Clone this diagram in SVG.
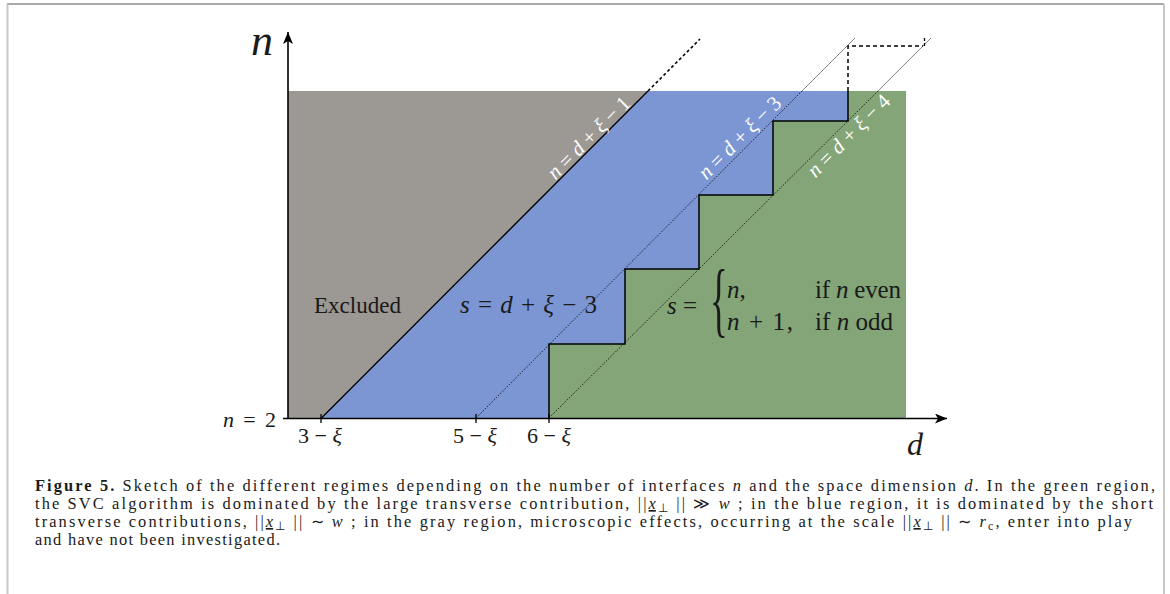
<svg xmlns="http://www.w3.org/2000/svg" width="1170" height="594" viewBox="0 0 1170 594">
<style>
.m{font-family:"Liberation Serif",serif;fill:#1a1a1a}
.it{font-style:italic}
.w{fill:#ffffff}
.cap{font-family:"Liberation Serif",serif;font-size:16.4px;fill:#1a1a1a}
.thin{stroke:#555;stroke-width:0.7;fill:none}
.dot{stroke:#000;stroke-width:1;stroke-dasharray:1 1.6;fill:none}
</style>
<defs>
<marker id="arr" viewBox="0 0 12 10" refX="12" refY="5" markerWidth="12" markerHeight="10" orient="auto" markerUnits="userSpaceOnUse">
<path d="M0,0 L12,5 L0,10 L3,5 Z" fill="#000"/>
</marker>
</defs>
<rect width="1170" height="594" fill="#fff"/>
<g id="frame">
<line x1="7" y1="4" x2="1164" y2="4" stroke="#8c8c8c" stroke-width="1.5"/>
<line x1="7.5" y1="4" x2="7.5" y2="594" stroke="#c8c8c8" stroke-width="2"/>
<line x1="1164" y1="4" x2="1164" y2="594" stroke="#c8c8c8" stroke-width="2"/>
</g>
<g id="regions">
<rect id="green" x="288" y="91" width="618" height="327.5" fill="#83a577"/>
<polygon id="blue" points="321,418.5 648,91 848,91 848,121 773,121 773,195 699,195 699,269 625,269 625,344 549,344 549,418.5" fill="#7c96d4"/>
<polygon id="gray" points="288,91 648,91 321,418.5 288,418.5" fill="#9c9894"/>
</g>
<g id="connectors">
<line x1="476" y1="418" x2="802" y2="91" class="dot"/>
<line x1="802" y1="91" x2="855" y2="38" class="thin"/>
<line x1="549" y1="418" x2="878" y2="91" class="dot"/>
<line x1="878" y1="91" x2="931" y2="38" class="thin"/>
<line x1="321" y1="418.5" x2="648" y2="91" stroke="#000" stroke-width="1.3"/>
<line x1="648" y1="91" x2="700" y2="39" stroke="#000" stroke-width="1.6" stroke-dasharray="3 2.5"/>
<polyline points="549,418 549,344 625,344 625,269 699,269 699,195 773,195 773,121 848,121 848,91" fill="none" stroke="#000" stroke-width="1.5"/>
<polyline points="848,91 848,46 923,46" fill="none" stroke="#000" stroke-width="1.5" stroke-dasharray="4 3"/>
<line x1="924.5" y1="38" x2="924.5" y2="46" stroke="#000" stroke-width="1.3" stroke-dasharray="3 2"/>
</g>
<g id="axes">
<line x1="288" y1="418.5" x2="288" y2="32" stroke="#000" stroke-width="1.6" marker-end="url(#arr)"/>
<line x1="283" y1="418.5" x2="947" y2="418.5" stroke="#000" stroke-width="1.6" marker-end="url(#arr)"/>
<line x1="321" y1="414" x2="321" y2="423" stroke="#000" stroke-width="1.3"/>
<line x1="476" y1="414" x2="476" y2="423" stroke="#000" stroke-width="1.3"/>
<line x1="549" y1="414" x2="549" y2="423" stroke="#000" stroke-width="1.3"/>
<text class="m it" x="251" y="55" font-size="44">n</text>
<text class="m it" x="907" y="455" font-size="32">d</text>
<text class="m" x="276" y="427" font-size="22" text-anchor="end" textLength="53"><tspan class="it">n</tspan> = 2</text>
<text class="m" x="320" y="443" font-size="22" text-anchor="middle">3 − <tspan class="it">ξ</tspan></text>
<text class="m" x="475" y="443" font-size="22" text-anchor="middle">5 − <tspan class="it">ξ</tspan></text>
<text class="m" x="549" y="443" font-size="22" text-anchor="middle">6 − <tspan class="it">ξ</tspan></text>
</g>
<g id="labels">
<text class="m" x="314" y="313" font-size="23" textLength="87" lengthAdjust="spacingAndGlyphs">Excluded</text>
<text class="m" x="460" y="313" font-size="25" textLength="137"><tspan class="it">s</tspan> = <tspan class="it">d</tspan> + <tspan class="it">ξ</tspan> − 3</text>
<text class="m" x="667" y="314" font-size="25"><tspan class="it">s</tspan> =</text>
<text class="m" x="0" y="0" font-size="82" transform="translate(710,327) scale(0.45,1)">{</text>
<text class="m" x="727" y="298" font-size="25"><tspan class="it">n</tspan>,</text>
<text class="m" x="815" y="298" font-size="25" textLength="86">if <tspan class="it">n</tspan> even</text>
<text class="m" x="727" y="330" font-size="25" textLength="66"><tspan class="it">n</tspan> + 1,</text>
<text class="m" x="815" y="330" font-size="25" textLength="78">if <tspan class="it">n</tspan> odd</text>
<text class="m w" font-size="21" text-anchor="middle" transform="translate(590,139) rotate(-45)" y="5"><tspan class="it">n</tspan> = <tspan class="it">d</tspan> + <tspan class="it">ξ</tspan> − 1</text>
<text class="m w" font-size="21" text-anchor="middle" transform="translate(741,139) rotate(-45)" y="5"><tspan class="it">n</tspan> = <tspan class="it">d</tspan> + <tspan class="it">ξ</tspan> − 3</text>
<text class="m w" font-size="21" text-anchor="middle" transform="translate(850,137) rotate(-45)" y="5"><tspan class="it">n</tspan> = <tspan class="it">d</tspan> + <tspan class="it">ξ</tspan> − 4</text>
</g>
<g id="caption">
<text class="cap" x="35" y="491" textLength="1120" lengthAdjust="spacing"><tspan font-weight="bold">Figure 5.</tspan> Sketch of the different regimes depending on the number of interfaces <tspan class="it">n</tspan> and the space dimension <tspan class="it">d</tspan>. In the green region,</text>
<text class="cap" x="35" y="509" textLength="1118" lengthAdjust="spacing">the SVC algorithm is dominated by the large transverse contribution, ||<tspan class="it" text-decoration="underline">x</tspan><tspan font-size="12" baseline-shift="-3">⊥</tspan> || ≫ <tspan class="it">w</tspan> ; in the blue region, it is dominated by the short</text>
<text class="cap" x="35" y="527" textLength="1097" lengthAdjust="spacing">transverse contributions, ||<tspan class="it" text-decoration="underline">x</tspan><tspan font-size="12" baseline-shift="-3">⊥</tspan> || ∼ <tspan class="it">w</tspan> ; in the gray region, microscopic effects, occurring at the scale ||<tspan class="it" text-decoration="underline">x</tspan><tspan font-size="12" baseline-shift="-3">⊥</tspan> || ∼ <tspan class="it">r</tspan><tspan font-size="12" baseline-shift="-3">c</tspan>, enter into play</text>
<text class="cap" x="35" y="545" textLength="245" lengthAdjust="spacing">and have not been investigated.</text>
</g>
</svg>
